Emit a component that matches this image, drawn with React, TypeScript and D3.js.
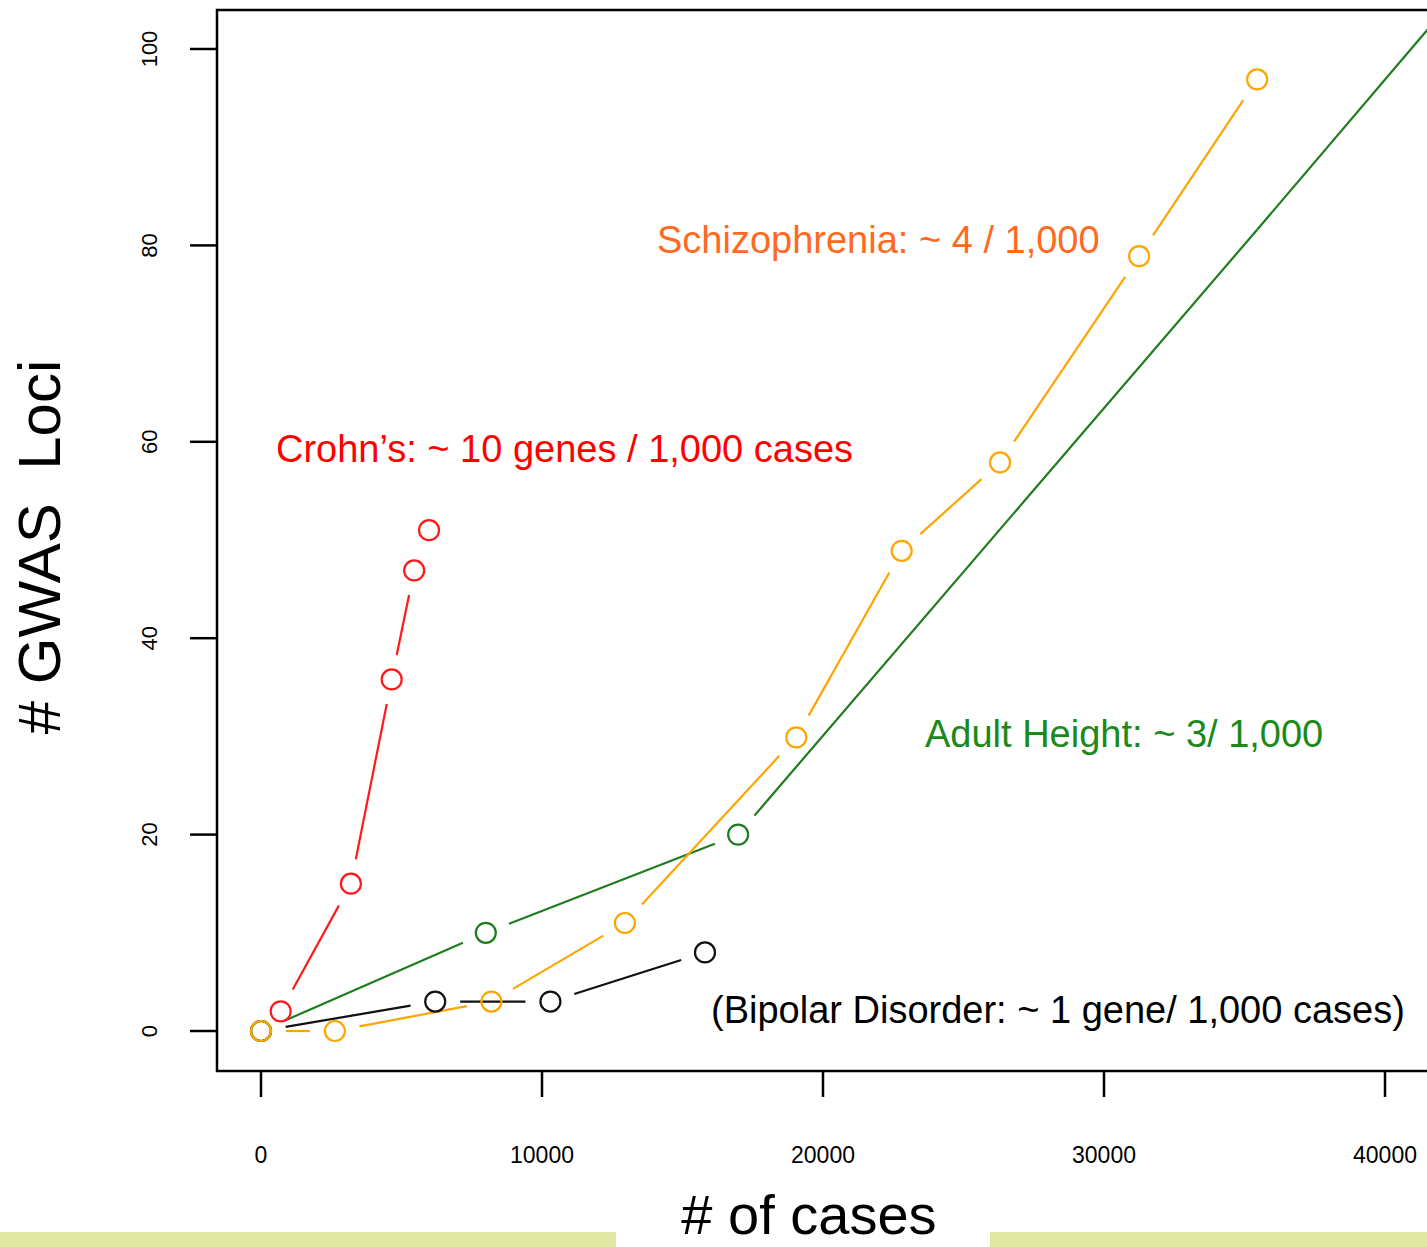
import { useEffect, useRef } from "react";
import * as d3 from "d3";

// values: [cases, loci]
const crohns = [[700, 2], [3200, 15], [4650, 35.8], [5450, 46.9], [5980, 51]];
const schizophrenia = [[0, 0], [2630, 0], [8200, 3], [12950, 11], [19050, 29.9], [22800, 48.9], [26300, 57.9], [31250, 78.9], [35450, 96.9]];
const height = [[0, 0], [8000, 10], [16980, 20], [35450, 81.6], [42000, 103.6]];
const heightMarked = [true, true, true, false, false];
const bipolar = [[0, 0], [6200, 3], [10300, 3], [15800, 8]];

const xTicks = [0, 10000, 20000, 30000, 40000];
const yTicks = [0, 20, 40, 60, 80, 100];

const labels = [
  { text: "Schizophrenia: ~ 4 / 1,000", x: 657, y: 253, color: "#ff6a1e" },
  { text: "Crohn\u2019s: ~ 10 genes / 1,000 cases", x: 276, y: 462, color: "#ff0000" },
  { text: "Adult Height: ~ 3/ 1,000", x: 925, y: 747, color: "#1a8a1a" },
  { text: "(Bipolar Disorder: ~ 1 gene/ 1,000 cases)", x: 711, y: 1023, color: "#000000" },
];

const FONT = "'Liberation Sans', Arial, sans-serif";

export default function App() {
  const svgRef = useRef<SVGSVGElement>(null);

  useEffect(() => {
    const svg = d3.select(svgRef.current);
    svg.selectAll("*").remove();

    const x = d3.scaleLinear().domain([0, 40000]).range([261, 1385]);
    const y = d3.scaleLinear().domain([0, 100]).range([1031, 49]);
    const box = { left: 217, top: 10, right: 1445, bottom: 1071 };
    const gap = 25;
    const r = 10;

    svg.append("rect").attr("width", 1427).attr("height", 1247).attr("fill", "white");

    // bottom bars
    svg.append("rect").attr("x", 0).attr("y", 1232).attr("width", 616).attr("height", 15).attr("fill", "#e0e7a2");
    svg.append("rect").attr("x", 990).attr("y", 1232).attr("width", 437).attr("height", 15).attr("fill", "#e0e7a2");

    // frame
    svg.append("rect")
      .attr("x", box.left).attr("y", box.top)
      .attr("width", box.right - box.left).attr("height", box.bottom - box.top)
      .attr("fill", "none").attr("stroke", "#000").attr("stroke-width", 2.5);

    // x ticks
    const xg = svg.append("g");
    xg.selectAll("line").data(xTicks).join("line")
      .attr("x1", d => x(d)).attr("x2", d => x(d))
      .attr("y1", box.bottom).attr("y2", 1097)
      .attr("stroke", "#000").attr("stroke-width", 2.5);
    xg.selectAll("text").data(xTicks).join("text")
      .attr("x", d => x(d)).attr("y", 1163)
      .attr("text-anchor", "middle")
      .attr("font-family", FONT).attr("font-size", 23)
      .text(d => String(d));

    // y ticks
    const yg = svg.append("g");
    yg.selectAll("line").data(yTicks).join("line")
      .attr("x1", 190).attr("x2", box.left)
      .attr("y1", d => y(d)).attr("y2", d => y(d))
      .attr("stroke", "#000").attr("stroke-width", 2.5);
    yg.selectAll("text").data(yTicks).join("text")
      .attr("transform", d => `translate(157,${y(d)}) rotate(-90)`)
      .attr("text-anchor", "middle")
      .attr("font-family", FONT).attr("font-size", 22)
      .text(d => String(d));

    // axis titles
    svg.append("text")
      .attr("transform", "translate(60,547) rotate(-90)")
      .attr("text-anchor", "middle")
      .attr("font-family", FONT).attr("font-size", 60)
      .style("white-space", "pre")
      .text("# GWAS  Loci");
    svg.append("text")
      .attr("x", 809).attr("y", 1234)
      .attr("text-anchor", "middle")
      .attr("font-family", FONT).attr("font-size", 56)
      .text("# of cases");

    const plot = svg.append("g");
    plot.append("clipPath").attr("id", "plotclip")
      .append("rect")
      .attr("x", box.left).attr("y", box.top)
      .attr("width", box.right - box.left).attr("height", box.bottom - box.top);

    const series = [
      { data: height, color: "#1f7d1f", marked: heightMarked },
      { data: crohns, color: "#ff1a1a", marked: null },
      { data: schizophrenia, color: "#ffa500", marked: null },
      { data: bipolar, color: "#111111", marked: null },
    ];

    // segments with gaps around points (type = "b")
    series.forEach(s => {
      const pts = s.data.map(d => [x(d[0]), y(d[1])]);
      const segs: number[][] = [];
      for (let i = 0; i < pts.length - 1; i++) {
        const [x0, y0] = pts[i];
        const [x1, y1] = pts[i + 1];
        const len = Math.hypot(x1 - x0, y1 - y0);
        const g0 = !s.marked || s.marked[i] ? gap : 0;
        const g1 = !s.marked || s.marked[i + 1] ? gap : 0;
        if (len <= g0 + g1) continue;
        const ux = (x1 - x0) / len, uy = (y1 - y0) / len;
        segs.push([x0 + ux * g0, y0 + uy * g0, x1 - ux * g1, y1 - uy * g1]);
      }
      plot.append("g").attr("clip-path", "url(#plotclip)")
        .selectAll("line").data(segs).join("line")
        .attr("x1", d => d[0]).attr("y1", d => d[1])
        .attr("x2", d => d[2]).attr("y2", d => d[3])
        .attr("stroke", s.color).attr("stroke-width", 2.2);
    });

    // markers
    [series[3], series[0], series[1], series[2]].forEach(s => {
      const data = s.data.filter((_, i) => !s.marked || s.marked[i]);
      plot.append("g").selectAll("circle").data(data).join("circle")
        .attr("cx", d => x(d[0])).attr("cy", d => y(d[1]))
        .attr("r", r)
        .attr("fill", "none").attr("stroke", s.color).attr("stroke-width", 2.2);
    });

    // annotations
    svg.append("g").selectAll("text").data(labels).join("text")
      .attr("x", d => d.x).attr("y", d => d.y)
      .attr("fill", d => d.color)
      .attr("font-family", FONT).attr("font-size", 38)
      .text(d => d.text);
  }, []);

  return (
    <svg ref={svgRef} width={1427} height={1247}
      style={{ position: "absolute", left: 0, top: 0, display: "block" }} />
  );
}
